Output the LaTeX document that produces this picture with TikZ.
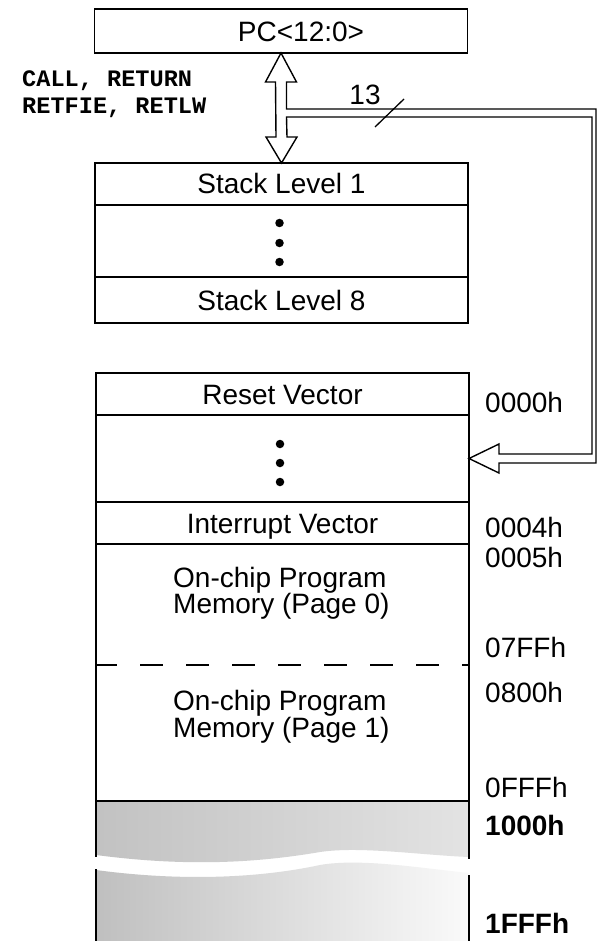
\documentclass[tikz,border=0pt]{standalone}
\usepackage{fontspec}
\setmainfont{Liberation Sans}
\newfontfamily\monofnt{Liberation Mono}
\usetikzlibrary{calc}
\begin{document}
\begin{tikzpicture}[x=1pt,y=-1pt,
  box/.style={draw, line width=1.7pt, minimum width=373pt, inner sep=0pt, outer sep=0pt},
  area/.style={minimum width=373pt, inner sep=0pt, outer sep=0pt},
  lbl/.style={font=\fontsize{28}{28}\selectfont, inner sep=0pt, text height=20pt, text depth=0pt},
  addr/.style={lbl, anchor=west},
  mono/.style={font=\monofnt\bfseries\fontsize{23.6}{27}\selectfont, inner sep=0pt, anchor=west, text height=14pt, text depth=0pt},
  memdot/.style={circle, fill, inner sep=0pt, minimum size=8.5pt},
  bus/.style={line width=1.4pt, line join=miter, fill=white}]
\fill[white] (0,0) rectangle (597,941);
\useasboundingbox (0,0) rectangle (597,941);

% PC register
\node[box, minimum height=44pt] (pc) at (281,31) {};
\node[lbl] (pctext) at (301,32) {PC<12:0>};

% instruction label
\node[mono] (instr1) at (22,80) {CALL, RETURN};
\node[mono] (instr2) at (22,107) {RETFIE, RETLW};

% stack
\node[box, lbl, minimum height=42pt] (stack1) at (281.5,184) {Stack Level 1};
\node[box, minimum height=72pt] (stackd) at (281.5,241) {};
\node[box, lbl, minimum height=46pt] (stack8) at (281.5,300) {Stack Level 8};
\node[memdot] (sd1) at ($(stackd.center)+(-2,-18)$) {};
\node[memdot] (sd2) at ($(stackd.center)+(-2,2)$) {};
\node[memdot] (sd3) at ($(stackd.center)+(-2,21)$) {};

% program memory
\node[box, lbl, minimum height=42pt] (resetv) at (282.5,394) {Reset Vector};
\node[box, minimum height=87pt] (dotsm) at (282.5,458.5) {};
\node[box, lbl, minimum height=42pt] (intv) at (282.5,523) {Interrupt Vector};
\node[area, minimum height=121pt] (page0) at (282.5,604.5) {};
\node[area, minimum height=136pt] (page1) at (282.5,733) {};
\node[area, minimum height=140pt] (ext) at (282.5,871) {};
\node[memdot] (md1) at ($(dotsm.center)+(-2.5,-14.5)$) {};
\node[memdot] (md2) at ($(dotsm.center)+(-2.5,4.5)$) {};
\node[memdot] (md3) at ($(dotsm.center)+(-2.5,23.5)$) {};

% unimplemented (shaded) region
\shade[left color=black!24, right color=black!11]
  (ext.north west) -- (ext.north east) -- (469,857)
  .. controls (420,855) and (360,846) .. (320,852)
  .. controls (250,864) and (180,866) .. (96,855) -- cycle;
\shade[left color=black!25, right color=black!2]
  (96,870) .. controls (170,880) and (250,880) .. (320,865)
  .. controls (360,858) and (420,868) .. (469,873)
  -- (ext.south east) -- (ext.south west) -- cycle;
\draw[line width=2.4pt] (ext.north west) -- (96,857) (96,869) -- (ext.south west);
\draw[line width=1.8pt] (ext.north east) -- (469,859) (469,875) -- (ext.south east);

% page outlines
\draw[line width=1.7pt] (page0.north west) -- (page1.south west)
  (page0.north east) -- (page1.south east);
\draw[line width=1.4pt, dash pattern=on 23pt off 23pt, dash phase=2pt]
  (page0.south west) -- (page0.south east);
\draw[line width=2.6pt] (page1.south west) -- (page1.south east);

\node[lbl, anchor=west] (p0a) at (173,577) {On-chip Program};
\node[lbl, anchor=west] (p0b) at (173,603) {Memory (Page 0)};
\node[lbl, anchor=west] (p1a) at (173,700) {On-chip Program};
\node[lbl, anchor=west] (p1b) at (173,727) {Memory (Page 1)};

% addresses
\node[addr] (a0000) at (485,402) {0000h};
\node[addr] (a0004) at (485,527) {0004h};
\node[addr] (a0005) at (485,557) {0005h};
\node[addr] (a07FF) at (485,647) {07FFh};
\node[addr] (a0800) at (485,692) {0800h};
\node[addr] (a0FFF) at (485,787) {0FFFh};
\node[addr, font=\bfseries\fontsize{28}{28}\selectfont] (a1000) at (485,825) {1000h};
\node[addr, font=\bfseries\fontsize{28}{28}\selectfont] (a1FFF) at (485,923) {1FFFh};

% hollow bus arrows
\coordinate (rail) at (594,0);
\draw[bus]
  (pc.south)
  -- ($(pc.south)+(15.5,29)$)
  -- ($(pc.south)+(5.5,29)$)
  -- ($(pc.south)+(5.5,56)$)
  -- ($(rail |- pc.south)+(2,56)$)
  -- ($(rail |- dotsm.east)+(2,4.5)$)
  -- ($(dotsm.east)+(30,4.5)$)
  -- ($(dotsm.east)+(30,14.5)$)
  -- (dotsm.east)
  -- ($(dotsm.east)+(30,-14.5)$)
  -- ($(dotsm.east)+(30,-4.5)$)
  -- ($(rail |- dotsm.east)+(-2,-4.5)$)
  -- ($(rail |- pc.south)+(-2,64)$)
  -- ($(pc.south)+(5.5,64)$)
  -- ($(stack1.north)+(5.5,-26)$)
  -- ($(stack1.north)+(15.5,-26)$)
  -- (stack1.north)
  -- ($(stack1.north)+(-15.5,-26)$)
  -- ($(stack1.north)+(-5.5,-26)$)
  -- ($(pc.south)+(-5.5,29)$)
  -- ($(pc.south)+(-15.5,29)$)
  -- cycle;

% bus width marker
\node[lbl] (n13) at (365,95) {13};
\coordinate (slash) at (389.5,113);
\draw[line width=1.3pt] ($(slash)+(-14.5,14)$) -- ($(slash)+(14.5,-14)$);
\end{tikzpicture}
\end{document}
